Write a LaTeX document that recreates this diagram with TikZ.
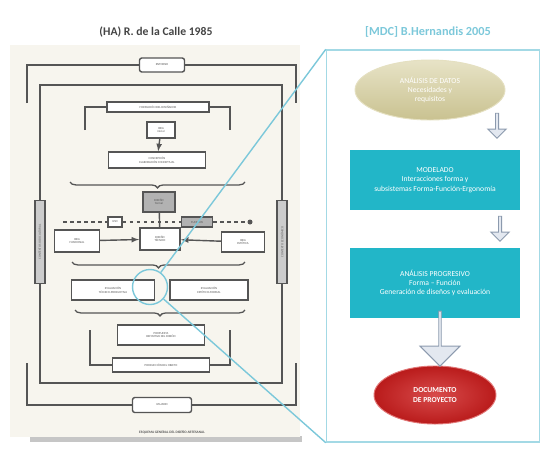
\documentclass[tikz,border=0pt]{standalone}
\usepackage{fontspec}
\setmainfont{Carlito}
\usetikzlibrary{shapes.geometric,shapes.arrows,decorations.pathreplacing}
\definecolor{paper}{HTML}{F7F5EE}
\definecolor{ink}{HTML}{555555}
\definecolor{lens}{HTML}{7CC8DA}
\definecolor{teal}{HTML}{22B6C8}
\definecolor{khaki}{HTML}{D4CC98}
\definecolor{docred}{HTML}{CE1E1E}
\definecolor{arrowfill}{HTML}{E3E8F0}
\definecolor{arrowline}{HTML}{8C9AAE}
\tikzset{
  box/.style={draw=ink, line width=1.2pt, fill=white, inner sep=0.5pt, align=center,
    font=\fontsize{2.6}{3}\selectfont, text=ink},
  darkbox/.style={box, fill=ink!45},
  wire/.style={draw=ink, line width=1.2pt},
  brace/.style={draw=ink, line width=1.1pt, decorate, decoration={brace, amplitude=5pt}},
  bigtext/.style={text=white, align=center, font=\fontsize{6.5}{8}\selectfont},
  blockarrow/.style={single arrow, shape border rotate=270, draw=arrowline, thick,
    fill=arrowfill, single arrow head extend=3pt, inner sep=0pt},
}
\begin{document}
\begin{tikzpicture}[x=0.03cm,y=-0.03cm]
\useasboundingbox (0,0) rectangle (544,449);
% sheet on the left
\fill[gray!45] (30,436) rectangle (302,442);
\fill[paper] (10,45) rectangle (300,437);
\node[font=\bfseries\fontsize{10}{12}\selectfont, text=ink!80!black] (titleA) at (156,32) {(HA) R. de la Calle 1985};
\node[font=\bfseries\fontsize{10.5}{12}\selectfont, text=lens] (titleB) at (428,32) {[MDC] B.Hernandis 2005};

% outer frame
\node[box, rounded corners=2pt, minimum width=1.35cm, minimum height=0.42cm] (entorno) at (162,65) {ENTORNO};
\node[box, rounded corners=2pt, minimum width=1.77cm, minimum height=0.45cm] (usuario) at (162,405) {USUARIO};
\node[box, fill=ink!30, rotate=90, minimum width=2.49cm, minimum height=0.3cm] (sideL) at (40,242) {CONTEXTO SOCIOCULTURAL};
\node[box, fill=ink!30, rotate=90, minimum width=2.49cm, minimum height=0.3cm] (sideR) at (282,242) {CONTEXTO ECONÓMICO};
\draw[wire] (27,103) -- (27,65) -- (entorno.west);
\draw[wire] (entorno.east) -- (296,65) -- (296,103);
\draw[wire] (27,363) -- (27,405) -- (usuario.west);
\draw[wire] (usuario.east) -- (296,405) -- (296,363);
\draw[wire] (sideL.east) -- (40,85) -- (282,85) -- (sideR.east);
\draw[wire] (sideL.west) -- (40,383) -- (282,383) -- (sideR.west);

% inner scheme
\node[box, minimum width=3.06cm, minimum height=0.3cm] (formacion) at (158,107) {FORMACIÓN DEL DISEÑADOR};
\node[box, minimum width=0.84cm, minimum height=0.48cm] (idea) at (161,130) {IDEA\\inicial};
\node[box, minimum width=2.91cm, minimum height=0.48cm] (concepcion) at (157,160) {CONCEPCIÓN\\ELABORACIÓN CONCEPTUAL};
\node[darkbox, minimum width=0.96cm, minimum height=0.6cm] (formal) at (159,202) {DISEÑO\\formal};
\node[box, minimum width=0.42cm, minimum height=0.3cm] (uso) at (115,222) {USO};
\node[darkbox, minimum width=0.93cm, minimum height=0.3cm] (funcion) at (197,222) {FUNCIÓN};
\node[box, minimum width=1.35cm, minimum height=0.66cm] (ideaF) at (77,241) {IDEA\\FUNCIONAL};
\node[box, line width=1.6pt, minimum width=1.2cm, minimum height=0.66cm] (tecnico) at (160,239) {DISEÑO\\TÉCNICO};
\node[box, minimum width=1.29cm, minimum height=0.6cm] (ideaE) at (243,242) {IDEA\\ESTÉTICA};
\node[box, minimum width=2.49cm, minimum height=0.6cm] (evalT) at (113,290) {EVALUACIÓN\\TÉCNICO-PRODUCTIVA};
\node[box, minimum width=2.34cm, minimum height=0.6cm] (evalE) at (209,290) {EVALUACIÓN\\ESTÉTICO-FORMAL};
\node[box, minimum width=2.61cm, minimum height=0.6cm] (propuesta) at (161,335) {PROPUESTA\\DEFINITIVA DEL DISEÑO};
\node[box, minimum width=2.91cm, minimum height=0.42cm] (produccion) at (161,365) {PRODUCCIÓN DEL OBJETO};
\node[font=\bfseries\fontsize{3}{4}\selectfont, text=ink] (caption) at (172,432) {ESQUEMA GENERAL DEL DISEÑO ARTESANAL};
\coordinate (dashL) at (63,222);
\coordinate (dashR) at (250,222);

\draw[wire] (85,130) -- (85,107) -- (formacion.west);
\draw[wire] (formacion.east) -- (230,107) -- (230,130);
\draw[wire, -latex] (idea) -- (concepcion);
\draw[brace, decoration={mirror}] (70,182) -- (245,182);
\draw[wire] (formal) -- (tecnico);
\draw[wire, dashed] (dashL) -- (uso) -- (funcion) -- (dashR);
\fill[ink] (dashR) circle (2.5);
\draw[wire, -latex] (ideaF) -- (tecnico);
\draw[wire, -latex] (ideaE) -- (tecnico);
\draw[brace, decoration={mirror}] (72,262) -- (245,262);
\draw[brace, decoration={mirror}] (75,310) -- (245,310);
\draw[wire] (90,330) -- (90,365) -- (produccion.west);
\draw[wire] (produccion.east) -- (230,365) -- (230,330);

% panel on the right
\node[draw=lens!70, very thick, fill=white, minimum width=6.39cm, minimum height=11.76cm] (panel) at (433,246) {};
\node[ellipse, draw=khaki!60, thick, top color=khaki!55, bottom color=khaki!95!black,
  minimum width=4.5cm, minimum height=1.8cm, bigtext] (datos) at (430,90)
  {ANÁLISIS DE DATOS\\Necesidades y\\requisitos};
\node[fill=teal, minimum width=5.1cm, minimum height=1.8cm, bigtext] (modelado) at (435,180)
  {MODELADO\\Interacciones forma y\\subsistemas Forma-Función-Ergonomía};
\node[fill=teal, minimum width=5.1cm, minimum height=2.1cm, bigtext] (analisis) at (435,283)
  {ANÁLISIS PROGRESIVO\\Forma – Función\\Generación de diseños y evaluación};
\node[ellipse, draw=docred!60, thick, inner color=docred!80, outer color=docred!90!black,
  minimum width=3.66cm, minimum height=1.74cm, bigtext, font=\bfseries\fontsize{6.5}{8}\selectfont] (documento) at (435,395)
  {DOCUMENTO\\DE PROYECTO};
\node[blockarrow, minimum width=0.55cm, minimum height=0.75cm, single arrow head extend=2pt] (arrowA) at (497,125) {};
\node[blockarrow, minimum width=0.55cm, minimum height=0.75cm, single arrow head extend=2pt] (arrowB) at (500,228) {};
\node[blockarrow, minimum width=1.2cm, minimum height=1.65cm, single arrow head extend=6pt] (arrowC) at (440,338) {};

% lens
\node[circle, draw=lens, very thick, minimum size=1.05cm] (loupe) at (150,287) {};
\draw[lens, very thick] (loupe) -- (panel.north west);
\draw[lens, very thick] (loupe) -- (panel.south west);
\end{tikzpicture}
\end{document}
